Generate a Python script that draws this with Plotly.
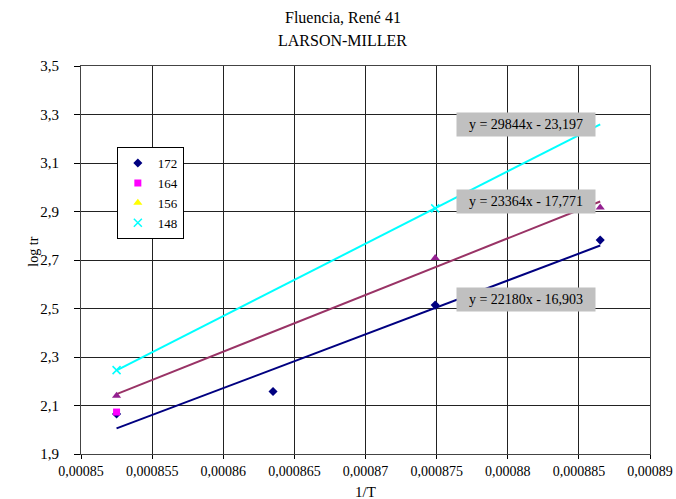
import plotly.graph_objects as go

# ---- data ----
series_names = ["172", "164", "156", "148"]
x_172 = [0.0008525, 0.0008635, 0.0008749, 0.0008865]
y_172 = [2.065, 2.158, 2.514, 2.782]
x_164 = [0.0008525]
y_164 = [2.073]
x_156 = [0.0008525, 0.0008749, 0.0008865]
y_156 = [2.140, 2.708, 2.916]
x_148 = [0.0008525, 0.0008749]
y_148 = [2.246, 2.913]

trend_slopes = [22180, 23364, 29844]
trend_intercepts = [-16.903, -17.771, -23.197]
trend_labels = ["y = 22180x - 16,903", "y = 23364x - 17,771", "y = 29844x - 23,197"]
trend_x_range = [0.0008525, 0.0008865]

x_tickvals = [0.00085, 0.000855, 0.00086, 0.000865, 0.00087, 0.000875, 0.00088, 0.000885, 0.00089]
x_ticktext = ["0,00085", "0,000855", "0,00086", "0,000865", "0,00087", "0,000875", "0,00088", "0,000885", "0,00089"]
y_tickvals = [1.9, 2.1, 2.3, 2.5, 2.7, 2.9, 3.1, 3.3, 3.5]
y_ticktext = ["1,9", "2,1", "2,3", "2,5", "2,7", "2,9", "3,1", "3,3", "3,5"]

title_lines = ["Fluencia, René 41", "LARSON-MILLER"]
x_title = "1/T"
y_title = "log tr"

FONT = "Liberation Serif, Times New Roman, serif"
navy = "#000080"
magenta = "#FF00FF"
yellow = "#FFFF00"
cyan = "#00FFFF"
maroon = "#993366"
purple = "#942090"

fig = go.Figure()

# trendlines
trend_colors = [navy, maroon, cyan]
for m, b, c in zip(trend_slopes, trend_intercepts, trend_colors):
    xs = trend_x_range
    ys = [m * xv + b for xv in xs]
    fig.add_trace(go.Scatter(x=xs, y=ys, mode="lines", line=dict(color=c, width=2),
                             showlegend=False, hoverinfo="skip"))

# data markers
fig.add_trace(go.Scatter(x=x_156, y=y_156, mode="markers", showlegend=False,
                         marker=dict(symbol="triangle-up", size=8, color=purple)))
fig.add_trace(go.Scatter(x=x_172, y=y_172, mode="markers", showlegend=False,
                         marker=dict(symbol="diamond", size=7, color=navy)))
fig.add_trace(go.Scatter(x=x_164, y=y_164, mode="markers", showlegend=False,
                         marker=dict(symbol="square", size=7, color=magenta)))
fig.add_trace(go.Scatter(x=x_148, y=y_148, mode="markers", showlegend=False,
                         marker=dict(symbol="x-thin", size=8, color=cyan,
                                     line=dict(color=cyan, width=1.5))))

# legend entries
leg_markers = [
    dict(symbol="diamond", size=7, color=navy),
    dict(symbol="square", size=7, color=magenta),
    dict(symbol="triangle-up", size=8, color=yellow),
    dict(symbol="x-thin", size=8, color=cyan, line=dict(color=cyan, width=1.5)),
]
for name, mk in zip(series_names, leg_markers):
    fig.add_trace(go.Scatter(x=[None], y=[None], mode="markers", name=name, marker=mk))

# equation labels
label_pos = [(0.782, 0.397), (0.782, 0.652), (0.782, 0.848)]
for txt, (px, py) in zip(trend_labels, label_pos):
    fig.add_annotation(x=px, y=py, xref="paper", yref="paper", text=txt, showarrow=False,
                       xanchor="center", yanchor="middle",
                       bgcolor="#C0C0C0", width=136, height=21,
                       font=dict(family=FONT, size=14, color="#000"))

# titles
fig.add_annotation(x=0.46, y=1.124, xref="paper", yref="paper", text=title_lines[0],
                   showarrow=False, xanchor="center", yanchor="middle",
                   font=dict(family=FONT, size=16, color="#000"))
fig.add_annotation(x=0.46, y=1.067, xref="paper", yref="paper", text=title_lines[1],
                   showarrow=False, xanchor="center", yanchor="middle",
                   font=dict(family=FONT, size=16, color="#000"))
fig.add_annotation(x=0.5, y=-0.098, xref="paper", yref="paper", text=x_title,
                   showarrow=False, xanchor="center", yanchor="middle",
                   font=dict(family=FONT, size=15, color="#000"))
fig.add_annotation(x=-0.083, y=0.521, xref="paper", yref="paper", text=y_title,
                   showarrow=False, xanchor="center", yanchor="middle", textangle=-90,
                   font=dict(family=FONT, size=14, color="#000"))

fig.update_layout(
    width=676, height=499,
    margin=dict(l=81, r=26, t=66, b=45, autoexpand=False),
    paper_bgcolor="white", plot_bgcolor="white",
    separators=", ",
    font=dict(family=FONT, size=14, color="#000"),
    legend=dict(x=0.063, y=0.791, xanchor="left", yanchor="top",
                bordercolor="#000", borderwidth=1, bgcolor="white",
                font=dict(family=FONT, size=13), tracegroupgap=0, itemwidth=30),
    showlegend=True,
)
fig.update_xaxes(range=[0.00085, 0.00089], tickvals=x_tickvals, ticktext=x_ticktext,
                 automargin=False,
                 showgrid=True, gridcolor="#222", gridwidth=1,
                 showline=True, linecolor="#444", linewidth=1, mirror=True,
                 ticks="outside", ticklen=4, tickcolor="#000", zeroline=False,
                 tickfont=dict(family=FONT, size=14))
fig.update_yaxes(range=[1.9, 3.5], tickvals=y_tickvals, ticktext=y_ticktext,
                 automargin=False,
                 showgrid=True, gridcolor="#222", gridwidth=1,
                 showline=True, linecolor="#444", linewidth=1, mirror=True,
                 ticks="outside", ticklen=6, tickcolor="#000", zeroline=False,
                 ticklabelstandoff=12,
                 tickfont=dict(family=FONT, size=15))

fig.write_html("out.html", config={"displayModeBar": False},
               post_script="document.body.style.margin='0';document.body.style.padding='0';")
